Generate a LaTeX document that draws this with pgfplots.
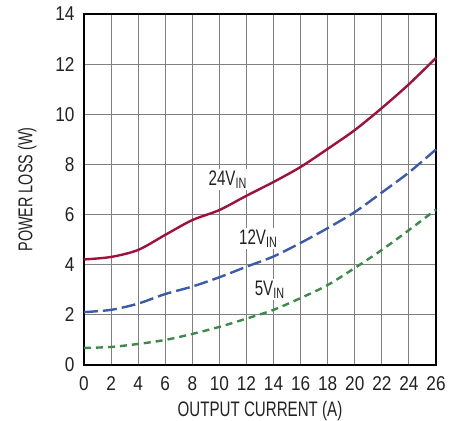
\documentclass[border=0pt]{standalone}
\usepackage{pgfplots}
\pgfplotsset{compat=1.18}
\usepackage{fontspec}
\setmainfont{Liberation Sans}[FakeStretch=0.86]
\newfontfamily\lab{Liberation Sans}[FakeStretch=0.72]
\definecolor{cred}{HTML}{A0103A}
\definecolor{cblue}{HTML}{3A5BAB}
\definecolor{cgreen}{HTML}{3A8A4A}
\definecolor{cgrid}{HTML}{808080}
\definecolor{ctext}{HTML}{222222}
\newcommand{\vin}[1]{{\lab\fontsize{21pt}{21pt}\selectfont #1V\raisebox{-0.3ex}{\fontsize{15pt}{15pt}\selectfont IN}}}
\begin{document}
\begin{tikzpicture}
\begin{axis}[
  scale only axis, width=352pt, height=351pt,
  xmin=0, xmax=26, ymin=0, ymax=14,
  xtick={0,2,...,26}, ytick={0,2,...,14},
  grid=major,
  major grid style={cgrid, line width=0.9pt},
  axis line style={black, line width=1.6pt},
  major tick length=0pt,
  every tick label/.append style={font=\fontsize{20pt}{20pt}\selectfont, text=ctext},
  /pgf/number format/assume math mode=true,
  xticklabel style={yshift=-8pt},
  yticklabel style={xshift=-6pt},
  xlabel={\lab\fontsize{21pt}{21pt}\selectfont OUTPUT CURRENT (A)},
  ylabel={\lab\fontsize{20pt}{20pt}\selectfont POWER LOSS (W)},
  label style={text=ctext},
  xlabel style={yshift=-4pt},
  ylabel style={yshift=12pt},
  clip=false,
]
\coordinate (SW) at (rel axis cs:0,0);
\coordinate (NE) at (rel axis cs:1,1);
\addplot[cred, line width=2.4pt, smooth] coordinates {
(0,4.21)(2,4.31)(4,4.59)(6,5.19)(8,5.78)(10,6.18)(12,6.75)(14,7.3)(16,7.9)(18,8.62)(20,9.37)(22,10.25)(24,11.2)(26,12.25)};
\addplot[cblue, line width=2.4pt, smooth, dash pattern=on 14pt off 5pt] coordinates {
(0,2.11)(2,2.2)(4,2.45)(6,2.83)(8,3.13)(10,3.5)(12,3.92)(14,4.33)(16,4.87)(18,5.46)(20,6.1)(22,6.88)(24,7.68)(26,8.6)};
\addplot[cgreen, line width=2.4pt, smooth, dash pattern=on 7pt off 5pt] coordinates {
(0,0.68)(2,0.72)(4,0.84)(6,1.0)(8,1.24)(10,1.52)(12,1.85)(14,2.2)(16,2.67)(18,3.19)(20,3.87)(22,4.59)(24,5.38)(26,6.2)};
\node[fill=white, inner sep=1.5pt, text=ctext] at (axis cs:10.6,7.4) {\vin{24}};
\node[fill=white, inner sep=1.5pt, text=ctext] at (axis cs:12.85,5.05) {\vin{12}};
\node[fill=white, inner sep=1.5pt, text=ctext] at (axis cs:13.7,3.0) {\vin{5}};
\end{axis}
\pgfresetboundingbox
\path ([shift={(-84pt,-55pt)}]SW) rectangle ([shift={(23pt,14pt)}]NE);
\end{tikzpicture}
\end{document}
